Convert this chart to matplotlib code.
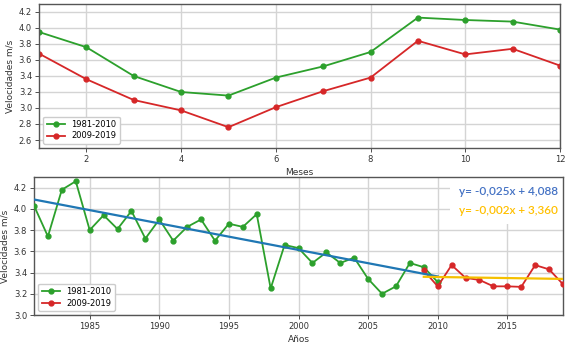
import matplotlib
matplotlib.use("Agg")
import matplotlib.pyplot as plt
from matplotlib.patches import Rectangle
import numpy as np

# Monthly mean wind speed
meses = [1, 2, 3, 4, 5, 6, 7, 8, 9, 10, 11, 12]
mensual_1981_2010 = [3.95, 3.76, 3.40, 3.20, 3.155, 3.38, 3.52, 3.70, 4.13, 4.10, 4.08, 3.98]
mensual_2009_2019 = [3.68, 3.36, 3.10, 2.97, 2.76, 3.01, 3.21, 3.38, 3.84, 3.67, 3.74, 3.53]

# Annual mean wind speed
anios_1981_2010 = list(range(1981, 2011))
anual_1981_2010 = [4.03, 3.74, 4.18, 4.26, 3.80, 3.94, 3.81, 3.98, 3.72, 3.90,
                   3.70, 3.83, 3.90, 3.70, 3.86, 3.83, 3.95, 3.25, 3.66, 3.63,
                   3.49, 3.59, 3.49, 3.54, 3.34, 3.20, 3.27, 3.49, 3.45, 3.31]
anios_2009_2019 = list(range(2009, 2020))
anual_2009_2019 = [3.42, 3.27, 3.47, 3.35, 3.33, 3.27, 3.27, 3.265, 3.47, 3.43, 3.29]

# Linear trends (slope, intercept)
tend_1 = (-0.025, 4.088)
tend_2 = (-0.002, 3.360)

series_labels = ["1981-2010", "2009-2019"]

GREEN = "#2ca02c"
RED = "#d62728"
GRID = "#d4d4d4"
SPINE = "#555555"

W, H = 577, 343
fig = plt.figure(figsize=(W / 100, H / 100), dpi=100)


def px_axes(l, t, r, b):
    return fig.add_axes([l / W, 1 - b / H, (r - l) / W, (b - t) / H])


def style(ax):
    ax.set_axisbelow(True)
    ax.grid(True, color=GRID, linewidth=1.0)
    for s in ax.spines.values():
        s.set_color(SPINE)
        s.set_linewidth(1.0)
    ax.tick_params(labelsize=6, colors="#333333", length=3, width=0.6, pad=2)


# Top panel: monthly
ax1 = px_axes(39, 4, 560, 148)
style(ax1)
ax1.plot(meses, mensual_1981_2010, color=GREEN, marker="o", markersize=3.5,
         linewidth=1.3, label=series_labels[0])
ax1.plot(meses, mensual_2009_2019, color=RED, marker="o", markersize=3.5,
         linewidth=1.3, label=series_labels[1])
ax1.set_xlim(1, 12)
ax1.set_ylim(2.5, 4.3)
ax1.set_xticks([2, 4, 6, 8, 10, 12])
ax1.set_yticks(np.arange(2.6, 4.21, 0.2))
ax1.yaxis.set_major_formatter(matplotlib.ticker.FormatStrFormatter("%.1f"))
ax1.set_xlabel("Meses", fontsize=6.5, color="#333333", labelpad=3)
ax1.set_ylabel("Velocidades m/s", fontsize=6.5, color="#333333", labelpad=3)
ax1.legend(loc="lower left", fontsize=6, handlelength=2.2, borderpad=0.4,
           labelspacing=0.3, framealpha=1, edgecolor="#cccccc")

# Bottom panel: annual with trends
ax2 = px_axes(34, 177, 563, 315)
style(ax2)
ax2.plot(anios_1981_2010, anual_1981_2010, color=GREEN, marker="o", markersize=3.5,
         linewidth=1.3, label=series_labels[0], zorder=3)
ax2.plot(anios_2009_2019, anual_2009_2019, color=RED, marker="o", markersize=3.5,
         linewidth=1.3, label=series_labels[1], zorder=3)

x1 = np.array([anios_1981_2010[0], anios_1981_2010[-1]])
ax2.plot(x1, tend_1[1] + tend_1[0] * (x1 - anios_1981_2010[0]),
         color="#1f77b4", linewidth=1.6, zorder=4)
x2 = np.array([anios_2009_2019[0], anios_2009_2019[-1]])
ax2.plot(x2, tend_2[1] + tend_2[0] * (x2 - anios_2009_2019[0]),
         color="#f5c000", linewidth=1.6, zorder=4)

ax2.set_xlim(1981, 2019)
ax2.set_ylim(3.0, 4.3)
ax2.set_xticks([1985, 1990, 1995, 2000, 2005, 2010, 2015])
ax2.set_yticks(np.arange(3.0, 4.21, 0.2))
ax2.yaxis.set_major_formatter(matplotlib.ticker.FormatStrFormatter("%.1f"))
ax2.set_xlabel("Años", fontsize=6.5, color="#333333", labelpad=3)
ax2.set_ylabel("Velocidades m/s", fontsize=6.5, color="#333333", labelpad=3)
ax2.legend(loc="lower left", fontsize=6, handlelength=2.2, borderpad=0.4,
           labelspacing=0.3, framealpha=1, edgecolor="#cccccc")

# Equation panel
ax2.add_patch(Rectangle((0.786, 0.66), 0.214, 0.34, transform=ax2.transAxes,
                        facecolor="white", edgecolor="none", zorder=1.5))


def fmt(v, d):
    return f"{v:.{d}f}".replace(".", ",")


eq1 = f"y= {fmt(tend_1[0], 3)}x + {fmt(tend_1[1], 3)}"
eq2 = f"y= {fmt(tend_2[0], 3)}x + {fmt(tend_2[1], 3)}"
ax2.text(0.99, 0.895, eq1, transform=ax2.transAxes, ha="right", va="center",
         fontsize=8.5, color="#4472c4", family="Lato", fontweight="semibold",
         zorder=5)
ax2.text(0.99, 0.755, eq2, transform=ax2.transAxes, ha="right", va="center",
         fontsize=8.5, color="#ffc000", family="Lato", fontweight="semibold",
         zorder=5)

fig.savefig("out.png", dpi=100)
